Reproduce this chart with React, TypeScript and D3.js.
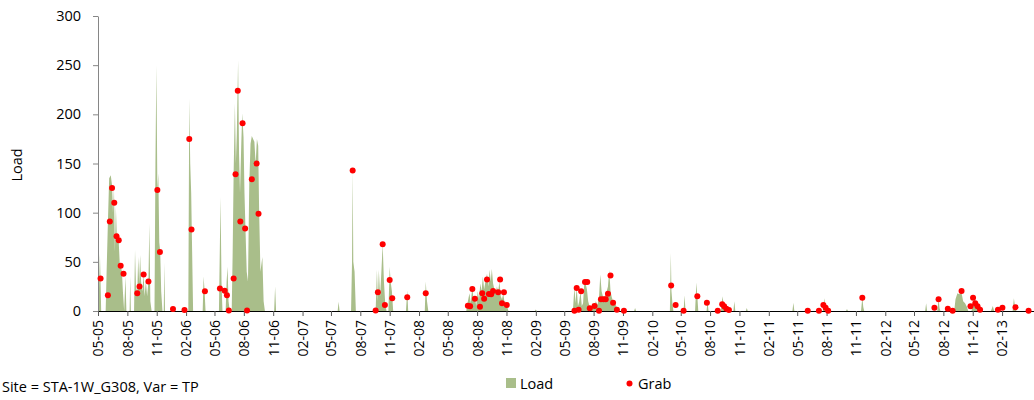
import React, { useEffect, useRef } from "react";
import * as d3 from "d3";

// Load series (date, value); zeros mark the gaps between events
const loadSeries: [string, number][] = [
	["2005-05-01", 0], ["2005-05-04", 20], ["2005-05-07", 58], ["2005-05-09", 30], ["2005-05-11", 0],
	["2005-05-25", 0], ["2005-05-28", 40], ["2005-06-01", 90], ["2005-06-05", 135], ["2005-06-10", 138],
	["2005-06-14", 128], ["2005-06-17", 100], ["2005-06-20", 125], ["2005-06-23", 60], ["2005-06-26", 106],
	["2005-06-29", 75], ["2005-07-02", 80], ["2005-07-05", 70], ["2005-07-08", 49], ["2005-07-12", 45],
	["2005-07-15", 40], ["2005-07-18", 20], ["2005-07-22", 0], ["2005-07-26", 35], ["2005-07-29", 0],
	["2005-08-08", 0], ["2005-08-10", 35], ["2005-08-12", 0],
	["2005-08-22", 0], ["2005-08-25", 62], ["2005-08-28", 25], ["2005-09-01", 18], ["2005-09-04", 55],
	["2005-09-07", 28], ["2005-09-10", 57], ["2005-09-13", 30], ["2005-09-17", 20], ["2005-09-21", 37],
	["2005-09-24", 15], ["2005-09-28", 30], ["2005-10-02", 15], ["2005-10-06", 30], ["2005-10-09", 89],
	["2005-10-12", 10], ["2005-10-16", 0],
	["2005-10-25", 0], ["2005-10-28", 150], ["2005-10-31", 250], ["2005-11-03", 123], ["2005-11-06", 140],
	["2005-11-09", 70], ["2005-11-12", 60], ["2005-11-15", 20], ["2005-11-19", 0],
	["2005-11-23", 0], ["2005-11-25", 49], ["2005-11-27", 0],
	["2006-02-08", 0], ["2006-02-11", 216], ["2006-02-14", 150], ["2006-02-17", 120], ["2006-02-20", 60], ["2006-02-23", 0],
	["2006-03-25", 0], ["2006-03-28", 35], ["2006-03-31", 20], ["2006-04-03", 0],
	["2006-05-15", 0], ["2006-05-20", 116], ["2006-05-23", 30], ["2006-05-26", 0],
	["2006-06-05", 0], ["2006-06-08", 30], ["2006-06-11", 45], ["2006-06-14", 10], ["2006-06-18", 0],
	["2006-06-24", 0], ["2006-06-27", 60], ["2006-06-30", 140], ["2006-07-04", 211], ["2006-07-07", 150],
	["2006-07-10", 180], ["2006-07-14", 255], ["2006-07-17", 160], ["2006-07-20", 120], ["2006-07-24", 170],
	["2006-07-27", 201], ["2006-07-31", 177], ["2006-08-03", 120], ["2006-08-06", 85], ["2006-08-10", 40],
	["2006-08-14", 30], ["2006-08-18", 130], ["2006-08-22", 170], ["2006-08-26", 178], ["2006-08-30", 175],
	["2006-09-03", 172], ["2006-09-07", 150], ["2006-09-11", 175], ["2006-09-15", 168], ["2006-09-18", 100],
	["2006-09-22", 40], ["2006-09-28", 55], ["2006-10-02", 10], ["2006-10-06", 0],
	["2006-11-04", 0], ["2006-11-07", 25], ["2006-11-10", 0],
	["2007-05-22", 0], ["2007-05-25", 9.5], ["2007-05-28", 0],
	["2007-07-03", 0], ["2007-07-06", 50], ["2007-07-08", 143], ["2007-07-10", 50], ["2007-07-14", 40], ["2007-07-18", 0],
	["2007-09-18", 0], ["2007-09-22", 42], ["2007-09-25", 10], ["2007-09-28", 42], ["2007-10-02", 15],
	["2007-10-06", 40], ["2007-10-10", 68], ["2007-10-14", 30], ["2007-10-18", 8], ["2007-10-22", 0],
	["2007-10-28", 0], ["2007-11-01", 45], ["2007-11-04", 30], ["2007-11-08", 20], ["2007-11-12", 0],
	["2007-12-22", 0], ["2007-12-26", 21], ["2007-12-29", 0],
	["2008-02-19", 0], ["2008-02-22", 30], ["2008-02-26", 10], ["2008-03-01", 0],
	["2008-06-28", 0], ["2008-07-03", 10], ["2008-07-08", 18], ["2008-07-12", 8], ["2008-07-17", 25],
	["2008-07-21", 10], ["2008-07-25", 15], ["2008-07-29", 5], ["2008-08-03", 20], ["2008-08-07", 12],
	["2008-08-11", 28], ["2008-08-15", 20], ["2008-08-19", 35], ["2008-08-23", 22], ["2008-08-27", 30],
	["2008-09-01", 38], ["2008-09-05", 25], ["2008-09-09", 42], ["2008-09-13", 30], ["2008-09-16", 43],
	["2008-09-20", 28], ["2008-09-24", 22], ["2008-09-28", 18], ["2008-10-02", 25], ["2008-10-06", 20],
	["2008-10-10", 30], ["2008-10-14", 15], ["2008-10-18", 12], ["2008-10-22", 18], ["2008-10-26", 8],
	["2008-10-30", 10], ["2008-11-03", 5], ["2008-11-07", 0],
	["2009-01-29", 0], ["2009-02-01", 1.5], ["2009-02-04", 0],
	["2009-05-28", 0], ["2009-06-02", 25], ["2009-06-05", 8], ["2009-06-09", 24], ["2009-06-13", 5],
	["2009-06-17", 10], ["2009-06-21", 20], ["2009-06-25", 5], ["2009-06-29", 8], ["2009-07-03", 30],
	["2009-07-07", 28], ["2009-07-11", 22], ["2009-07-15", 10], ["2009-07-19", 5], ["2009-07-24", 3],
	["2009-07-29", 8], ["2009-08-03", 5], ["2009-08-08", 10], ["2009-08-13", 6], ["2009-08-18", 14],
	["2009-08-22", 37], ["2009-08-26", 20], ["2009-08-30", 15], ["2009-09-03", 14], ["2009-09-07", 16],
	["2009-09-11", 20], ["2009-09-15", 25], ["2009-09-19", 42], ["2009-09-23", 20], ["2009-09-27", 14],
	["2009-10-01", 10], ["2009-10-06", 8], ["2009-10-11", 5], ["2009-10-16", 2], ["2009-10-22", 0],
	["2009-12-06", 0], ["2009-12-09", 3], ["2009-12-12", 0],
	["2010-03-28", 0], ["2010-03-31", 59], ["2010-04-02", 20], ["2010-04-05", 8], ["2010-04-08", 0],
	["2010-05-10", 0], ["2010-05-13", 16], ["2010-05-16", 0],
	["2010-06-15", 0], ["2010-06-19", 29], ["2010-06-22", 15], ["2010-06-25", 0],
	["2010-07-21", 0], ["2010-07-24", 10], ["2010-07-27", 0],
	["2010-09-04", 0], ["2010-09-09", 15], ["2010-09-13", 5], ["2010-09-18", 3], ["2010-09-23", 0],
	["2010-10-13", 0], ["2010-10-16", 10], ["2010-10-19", 0],
	["2010-11-21", 0], ["2010-11-24", 3], ["2010-11-27", 0],
	["2011-04-16", 0], ["2011-04-19", 8.5], ["2011-04-22", 0],
	["2011-07-20", 0], ["2011-07-25", 13], ["2011-07-28", 4], ["2011-07-31", 0],
	["2011-10-01", 0], ["2011-10-04", 2], ["2011-10-07", 0],
	["2011-11-17", 0], ["2011-11-21", 14], ["2011-11-24", 4], ["2011-11-27", 0],
	["2012-06-05", 0], ["2012-06-08", 8], ["2012-06-11", 0],
	["2012-07-13", 0], ["2012-07-17", 12], ["2012-07-20", 3], ["2012-07-23", 0],
	["2012-09-04", 0], ["2012-09-08", 12], ["2012-09-14", 18], ["2012-09-20", 17], ["2012-09-26", 20],
	["2012-10-02", 10], ["2012-10-08", 8], ["2012-10-14", 4], ["2012-10-18", 0],
	["2012-10-28", 0], ["2012-11-02", 8], ["2012-11-07", 13], ["2012-11-12", 5], ["2012-11-18", 2], ["2012-11-24", 0],
	["2012-12-28", 0], ["2013-01-03", 5], ["2013-01-07", 0],
	["2013-03-06", 0], ["2013-03-10", 13], ["2013-03-14", 3], ["2013-03-18", 0],
];

// Grab samples (date, value)
const grabSeries: [string, number][] = [
	["2005-05-09", 33], ["2005-06-01", 16], ["2005-06-07", 91], ["2005-06-14", 125], ["2005-06-21", 110],
	["2005-06-28", 76], ["2005-07-05", 72], ["2005-07-11", 46], ["2005-07-20", 38], ["2005-09-01", 18],
	["2005-09-08", 25], ["2005-09-21", 37], ["2005-10-06", 30], ["2005-11-03", 123], ["2005-11-11", 60],
	["2005-12-22", 2], ["2006-01-27", 1], ["2006-02-11", 175], ["2006-02-18", 83], ["2006-04-01", 20],
	["2006-05-18", 23], ["2006-06-02", 20.5], ["2006-06-09", 16], ["2006-06-15", 0.5], ["2006-06-30", 33],
	["2006-07-06", 139], ["2006-07-13", 224], ["2006-07-21", 91], ["2006-07-28", 191], ["2006-08-05", 84],
	["2006-08-11", 0.5], ["2006-08-26", 134], ["2006-09-10", 150], ["2006-09-16", 99],
	["2007-07-08", 143], ["2007-09-18", 0.5], ["2007-09-25", 19], ["2007-10-10", 68], ["2007-10-17", 6],
	["2007-11-01", 31.5], ["2007-11-09", 13], ["2007-12-26", 14], ["2008-02-22", 18],
	["2008-07-03", 5.4], ["2008-07-10", 4.8], ["2008-07-17", 22.4], ["2008-07-25", 12.5], ["2008-08-10", 4.4],
	["2008-08-17", 18], ["2008-08-23", 12.5], ["2008-09-01", 32], ["2008-09-07", 17.3], ["2008-09-14", 17],
	["2008-09-20", 20.3], ["2008-10-06", 19], ["2008-10-12", 32], ["2008-10-18", 8], ["2008-10-24", 19],
	["2008-11-02", 6],
	["2009-06-02", 0.3], ["2009-06-09", 23.4], ["2009-06-15", 1.3], ["2009-06-23", 20], ["2009-07-05", 29.5],
	["2009-07-12", 29.5], ["2009-07-20", 2.7], ["2009-08-04", 5], ["2009-08-18", 0.3], ["2009-08-24", 12],
	["2009-09-01", 12], ["2009-09-08", 12], ["2009-09-15", 17.6], ["2009-09-23", 36], ["2009-10-01", 8.5],
	["2009-10-13", 1.3], ["2009-11-04", 0.3],
	["2010-04-01", 26], ["2010-04-15", 6], ["2010-05-10", 0.3], ["2010-06-22", 15], ["2010-07-22", 8.5],
	["2010-08-25", 0.3], ["2010-09-08", 6.8], ["2010-09-14", 4.8], ["2010-09-21", 2.4], ["2010-09-29", 1],
	["2011-06-03", 0.3], ["2011-07-08", 0.3], ["2011-07-22", 6], ["2011-07-29", 3.4], ["2011-08-06", 0.3],
	["2011-11-21", 13.5],
	["2012-07-04", 3.4], ["2012-07-17", 12], ["2012-08-15", 2.4], ["2012-08-30", 0.3], ["2012-09-27", 20.3],
	["2012-10-25", 4.8], ["2012-11-02", 13.5], ["2012-11-09", 7.8], ["2012-11-16", 4.8], ["2012-11-24", 1.3],
	["2013-01-19", 1.3], ["2013-02-02", 3.4], ["2013-03-15", 3.8], ["2013-04-25", 0.3],
];

const yTicks = [0, 50, 100, 150, 200, 250, 300];
const axisStart = "2005-05-01";
const axisEnd = "2013-05-12";
const lastTick = "2013-02-01";
const footnote = "Site = STA-1W_G308, Var = TP";

const FONT = "'Open Sans', 'Noto Sans', sans-serif";
const GREEN = "#a9be8a";
const RED = "#ff0000";

export default function App() {
	const svgRef = useRef<SVGSVGElement | null>(null);

	useEffect(() => {
		if (!svgRef.current) return;
		const svg = d3.select(svgRef.current);
		svg.selectAll("*").remove();

		const parse = d3.timeParse("%Y-%m-%d");
		const start = parse(axisStart) as Date;
		const end = parse(axisEnd) as Date;
		const tickEnd = d3.timeDay.offset(parse(lastTick) as Date, 1);

		const x = d3.scaleTime().domain([start, end]).range([98, 1034]);
		const y = d3.scaleLinear().domain([0, 300]).range([311, 16]);

		// Load area
		const area = d3
			.area<[string, number]>()
			.x((d) => x(parse(d[0]) as Date))
			.y0(y(0))
			.y1((d) => y(d[1]));

		svg.append("path").datum(loadSeries).attr("d", area).attr("fill", GREEN);

		// Y axis
		const yAxis = svg
			.append("g")
			.attr("transform", `translate(98,0)`)
			.call(d3.axisLeft(y).tickValues(yTicks).tickSize(5).tickSizeOuter(0).tickPadding(12));
		yAxis.select(".domain").attr("stroke", "#868686");
		yAxis.selectAll(".tick line").attr("stroke", "#868686");
		yAxis.selectAll("text").attr("font-family", FONT).attr("font-size", 14.5).attr("fill", "#000");

		// X axis, quarterly ticks
		const xTicks = d3.timeMonth.range(start, tickEnd, 3);
		const xAxis = svg
			.append("g")
			.attr("transform", `translate(0,${y(0)})`)
			.call(
				d3
					.axisBottom(x)
					.tickValues(xTicks)
					.tickFormat((d) => d3.timeFormat("%m-%y")(d as Date))
					.tickSize(5)
					.tickSizeOuter(0)
			);
		xAxis.select(".domain").attr("stroke", "#000");
		xAxis.selectAll(".tick line").attr("stroke", "#595959");
		xAxis
			.selectAll("text")
			.attr("font-family", FONT)
			.attr("font-size", 14)
			.attr("fill", "#000")
			.attr("transform", "rotate(-90)")
			.attr("text-anchor", "end")
			.attr("x", -9)
			.attr("y", 0)
			.attr("dy", "0.35em");

		// Grab points
		svg
			.append("g")
			.selectAll("circle")
			.data(grabSeries)
			.enter()
			.append("circle")
			.attr("cx", (d) => x(parse(d[0]) as Date))
			.attr("cy", (d) => y(d[1]))
			.attr("r", 3)
			.attr("fill", RED);

		// Axis title
		svg
			.append("text")
			.attr("transform", "translate(22,165) rotate(-90)")
			.attr("text-anchor", "middle")
			.attr("font-family", FONT)
			.attr("font-size", 14.5)
			.text("Load");

		// Footnote
		svg
			.append("text")
			.attr("x", 2)
			.attr("y", 392)
			.attr("font-family", FONT)
			.attr("font-size", 14.5)
			.text(footnote);

		// Legend
		svg.append("rect").attr("x", 506).attr("y", 378).attr("width", 10).attr("height", 10).attr("fill", GREEN);
		svg.append("text").attr("x", 520).attr("y", 389).attr("font-family", FONT).attr("font-size", 14.5).text("Load");
		svg.append("circle").attr("cx", 629.5).attr("cy", 383.5).attr("r", 3).attr("fill", RED);
		svg.append("text").attr("x", 638).attr("y", 389).attr("font-family", FONT).attr("font-size", 14.5).text("Grab");
	}, []);

	return (
		<svg
			ref={svgRef}
			width={1034}
			height={400}
			style={{ position: "absolute", left: 0, top: 0, background: "#fff" }}
		></svg>
	);
}
